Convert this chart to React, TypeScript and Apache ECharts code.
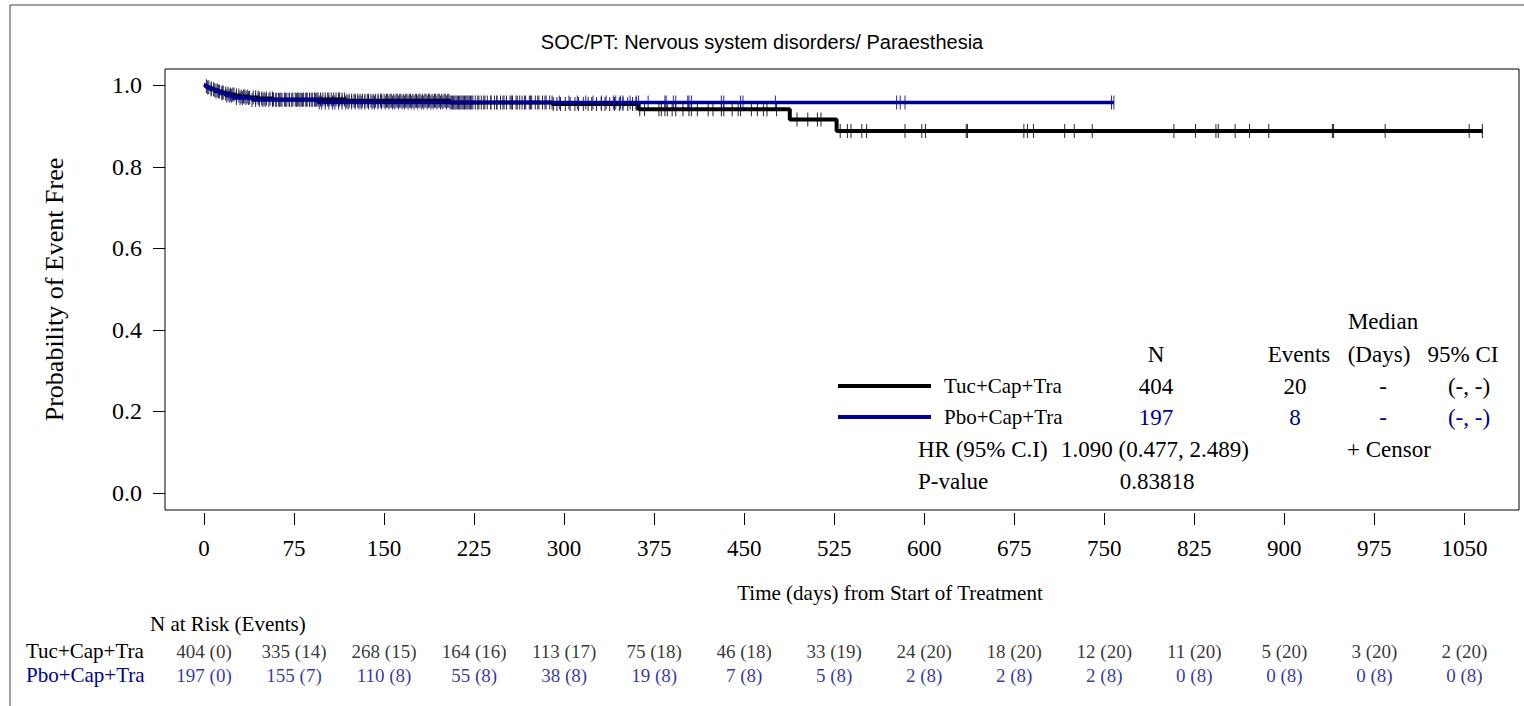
import React, { useEffect, useRef } from "react";
import * as echarts from "echarts";

// ---------- data ----------
const riskDays = [0, 75, 150, 225, 300, 375, 450, 525, 600, 675, 750, 825, 900, 975, 1050];
const yTicks = [0, 0.2, 0.4, 0.6, 0.8, 1.0];

const tucRisk = [404, 335, 268, 164, 113, 75, 46, 33, 24, 18, 12, 11, 5, 3, 2];
const tucEvents = [0, 14, 15, 16, 17, 18, 18, 19, 20, 20, 20, 20, 20, 20, 20];
const pboRisk = [197, 155, 110, 55, 38, 19, 7, 5, 2, 2, 2, 0, 0, 0, 0];
const pboEvents = [0, 7, 8, 8, 8, 8, 8, 8, 8, 8, 8, 8, 8, 8, 8];

// Kaplan-Meier step levels (event day -> survival after that day)
const tucEventDays = [0, 1, 3, 5, 7, 9, 12, 15, 18, 22, 26, 31, 38, 46, 58, 118, 205, 290, 362, 488, 527];
const tucSurvival = [1, 0.9975, 0.995, 0.9926, 0.9901, 0.9876, 0.9851, 0.9826, 0.9801, 0.9776, 0.9751, 0.9726, 0.97, 0.9675, 0.965, 0.962, 0.958, 0.954, 0.941, 0.916, 0.888];
const tucLastDay = 1065;

const pboEventDays = [0, 2, 5, 9, 13, 18, 24, 40, 95];
const pboSurvival = [1, 0.9949, 0.9898, 0.9847, 0.9796, 0.9744, 0.969, 0.9637, 0.958];
const pboLastDay = 758;

const tucCensorDays = [
  2, 4, 6, 8, 9, 11, 13, 15, 16, 18, 20, 22, 24, 25, 27, 29, 31, 33, 34, 36, 38, 41, 43, 45, 46, 48, 50, 52, 55, 57, 58, 60, 62, 64, 67, 69, 71, 74,
  76, 78, 79, 81, 83, 85, 86, 88, 90, 92, 94, 95, 97, 99, 101, 103, 104, 106, 108, 110, 112, 113, 115, 117, 119, 121, 123, 125, 126, 128, 130, 132, 134, 136, 137, 139, 141, 143, 145, 147, 148,
  150, 152, 153, 155, 156, 158, 160, 161, 163, 164, 166, 168, 169, 171, 172, 174, 176, 177, 179, 180, 182, 184, 185, 187, 188, 190, 192, 193, 195, 196, 198, 200, 201, 203, 204, 206, 208, 209, 211, 212, 214, 216, 217, 219, 220, 222, 224,
  226, 229, 231, 234, 236, 239, 242, 244, 247, 249, 252, 255, 257, 260, 263, 265, 268, 271, 273, 276, 279, 282, 285, 288, 291, 294, 297,
  301, 305, 309, 312, 316, 320, 323, 327, 331, 334, 338, 342, 346, 349, 353, 357, 360,
  363, 367, 379, 381, 384, 386, 390, 393, 399, 404, 406, 411, 420, 424, 431, 433, 440, 445, 447, 456, 461, 466, 469, 477,
  494, 503, 511, 514, 530, 536, 539, 548, 552, 584, 598, 601, 635, 636, 683, 686, 691, 717, 725, 740,
  808, 826, 843, 845, 859, 871, 887, 940, 941, 984, 1054, 1065,
];

const pboCensorDays = [
  3, 6, 10, 12, 15, 19, 21, 23, 27, 30, 32, 35, 37, 40, 43, 46, 49, 51, 54, 57, 60, 63, 65, 68, 71, 73,
  77, 80, 82, 85, 88, 90, 93, 96, 98, 101, 104, 107, 109, 112, 115, 118, 120, 123, 126, 129, 131, 134, 137, 140, 142, 145, 148,
  151, 154, 157, 159, 162, 165, 167, 170, 173, 175, 178, 181, 183, 186, 189, 191, 194, 197, 199, 202, 205, 207, 210, 213, 215, 218, 221, 223,
  228, 233, 239, 244, 250, 256, 261, 267, 272, 278, 284, 290, 296,
  304, 311, 318, 324, 331, 335, 341, 343, 347, 349, 355, 360, 362, 370,
  384, 385, 391, 393, 403, 404, 406, 431, 433, 447, 449, 476, 577, 580, 584, 756, 758,
];

const groupNames = ["Tuc+Cap+Tra", "Pbo+Cap+Tra"];
const statN = ["404", "197"];
const statEvents = ["20", "8"];
const statMedian = ["-", "-"];
const statCI = ["(-, -)", "(-, -)"];
const hrText = "1.090 (0.477, 2.489)";
const pValueText = "0.83818";

const titleText = "SOC/PT: Nervous system disorders/ Paraesthesia";
const yAxisTitle = "Probability of Event Free";
const xAxisTitle = "Time (days) from Start of Treatment";

// ---------- helpers ----------
const BLACK = "#000000";
const BLUE = "#000090";
const SERIF = "'Liberation Serif', 'Times New Roman', serif";
const SANS = "'Liberation Sans', Arial, sans-serif";

function survivalAt(days: number[], surv: number[], t: number): number {
  let s = surv[0];
  for (let i = 0; i < days.length; i++) if (days[i] <= t) s = surv[i];
  return s;
}

function curve(days: number[], surv: number[], last: number) {
  const pts = days.map((d, i) => [d, surv[i]]);
  pts.push([last, surv[surv.length - 1]]);
  return pts;
}

export default function App() {
  const ref = useRef<HTMLDivElement>(null);

  useEffect(() => {
    if (!ref.current) return;
    const chart = echarts.init(ref.current, null, { renderer: "svg" });

    const xMin = -32.5;
    const xMax = 1095.5;
    const G = { left: 165, top: 69, width: 1354, height: 441 };

    const riskGrid = (top: number) => ({ left: G.left, width: G.width, top, height: 20, show: false });
    const hiddenX = (gi: number) => ({ type: "value", gridIndex: gi, min: xMin, max: xMax, show: false });
    const hiddenY = (gi: number) => ({ type: "value", gridIndex: gi, min: 0, max: 1, show: false });

    const riskSeries = (gi: number, risk: number[], ev: number[], color: string) => ({
      type: "scatter",
      xAxisIndex: gi,
      yAxisIndex: gi,
      symbolSize: 1,
      itemStyle: { color: "rgba(0,0,0,0)" },
      silent: true,
      data: riskDays.map((d, i) => [d, 0.5, `${risk[i]} (${ev[i]})`]),
      label: {
        show: true,
        position: "inside",
        formatter: (p: any) => p.value[2],
        color,
        fontSize: 19,
        fontFamily: SERIF,
      },
    });

    const legendRowY = [386, 417];
    const lineColors = [BLACK, BLUE];
    const LF = `23px ${SERIF}`;
    const txt = (x: number, y: number, text: string, fill: string, align: string, font = LF) => ({
      type: "text",
      x,
      y,
      style: { text, font, fill, align, verticalAlign: "middle" },
    });

    const graphics: any[] = [
      // outer frame
      { type: "line", shape: { x1: 10, y1: 5, x2: 1524, y2: 5 }, style: { stroke: "#444", lineWidth: 1 } },
      { type: "line", shape: { x1: 10, y1: 5, x2: 10, y2: 706 }, style: { stroke: "#444", lineWidth: 1 } },
      // plot frame
      { type: "rect", z: -1, shape: { x: G.left, y: G.top, width: G.width, height: G.height }, style: { fill: "none", stroke: "#000", lineWidth: 1 } },
      // title
      txt(762, 42, titleText, "#000", "center", `20px ${SANS}`),
      // stats header
      txt(1383, 321, "Median", "#000", "center"),
      txt(1156, 354, "N", "#000", "center"),
      txt(1299, 354, "Events", "#000", "center"),
      txt(1379, 354, "(Days)", "#000", "center"),
      txt(1463, 354, "95% CI", "#000", "center"),
      // HR / p-value
      txt(918, 449, "HR (95% C.I)", "#000", "left"),
      txt(1061, 449, hrText, "#000", "left"),
      txt(1347, 449, "+ Censor", "#000", "left"),
      txt(918, 481, "P-value", "#000", "left"),
      txt(1157, 481, pValueText, "#000", "center"),
      // risk table header + row labels
      txt(150, 624, "N at Risk (Events)", "#000", "left", `21px ${SERIF}`),
      txt(26, 651, groupNames[0], BLACK, "left", `21px ${SERIF}`),
      txt(26, 675, groupNames[1], BLUE, "left", `21px ${SERIF}`),
    ];

    groupNames.forEach((name, i) => {
      const y = legendRowY[i];
      const c = lineColors[i];
      graphics.push(
        { type: "line", shape: { x1: 838, y1: y, x2: 931, y2: y }, style: { stroke: c, lineWidth: 4 } },
        txt(944, y, name, "#000", "left", `21px ${SERIF}`),
        txt(1156, y, statN[i], c, "center"),
        txt(1295, y, statEvents[i], c, "center"),
        txt(1383, y, statMedian[i], c, "center"),
        txt(1469, y, statCI[i], c, "center")
      );
    });

    const option: any = {
      animation: false,
      backgroundColor: "#ffffff",
      grid: [
        { left: G.left, top: G.top, width: G.width, height: G.height, show: false },
        riskGrid(641),
        riskGrid(665),
      ],
      xAxis: [
        {
          type: "value",
          gridIndex: 0,
          min: xMin,
          max: xMax,
          position: "bottom",
          offset: 3,
          axisLine: { show: false, onZero: false },
          splitLine: { show: false },
          axisTick: { show: true, length: 12, lineStyle: { color: "#000", width: 1 }, customValues: riskDays },
          axisLabel: { customValues: riskDays, margin: 24, fontSize: 23, fontFamily: SERIF, color: "#000", formatter: (v: number) => String(v) },
          name: xAxisTitle,
          nameLocation: "middle",
          nameGap: 69,
          nameTextStyle: { fontSize: 21, fontFamily: SERIF, color: "#000", padding: [0, 0, 0, 96] },
        },
        hiddenX(1),
        hiddenX(2),
      ],
      yAxis: [
        {
          type: "value",
          gridIndex: 0,
          min: -0.042,
          max: 1.04,
          axisLine: { show: false, onZero: false },
          splitLine: { show: false },
          axisTick: { show: true, length: 12, lineStyle: { color: "#000", width: 1 }, customValues: yTicks },
          axisLabel: { customValues: yTicks, margin: 23, fontSize: 24, fontFamily: SERIF, color: "#000", formatter: (v: number) => v.toFixed(1) },
          name: yAxisTitle,
          nameLocation: "middle",
          nameGap: 98,
          nameTextStyle: { fontSize: 26, fontFamily: SERIF, color: "#000" },
        },
        hiddenY(1),
        hiddenY(2),
      ],
      series: [
        {
          type: "line",
          name: groupNames[0],
          step: "end",
          showSymbol: false,
          symbol: "none",
          lineStyle: { color: BLACK, width: 4 },
          data: curve(tucEventDays, tucSurvival, tucLastDay),
          z: 2,
        },
        {
          type: "scatter",
          symbol: "rect",
          symbolSize: [1, 14],
          itemStyle: { color: BLACK, opacity: 0.85 },
          data: tucCensorDays.map((d) => [d, survivalAt(tucEventDays, tucSurvival, d)]),
          z: 3,
        },
        {
          type: "line",
          name: groupNames[1],
          step: "end",
          showSymbol: false,
          symbol: "none",
          lineStyle: { color: BLUE, width: 3.5 },
          data: curve(pboEventDays, pboSurvival, pboLastDay),
          z: 4,
        },
        {
          type: "scatter",
          symbol: "rect",
          symbolSize: [1, 14],
          itemStyle: { color: BLUE, opacity: 0.85 },
          data: pboCensorDays.map((d) => [d, survivalAt(pboEventDays, pboSurvival, d)]),
          z: 5,
        },
        riskSeries(1, tucRisk, tucEvents, BLACK),
        riskSeries(2, pboRisk, pboEvents, BLUE),
      ],
      graphic: graphics,
    };

    chart.setOption(option);
    return () => chart.dispose();
  }, []);

  return (
    <div
      ref={ref}
      style={{ position: "absolute", left: 0, top: 0, width: 1524, height: 706, background: "#fff" }}
    />
  );
}
